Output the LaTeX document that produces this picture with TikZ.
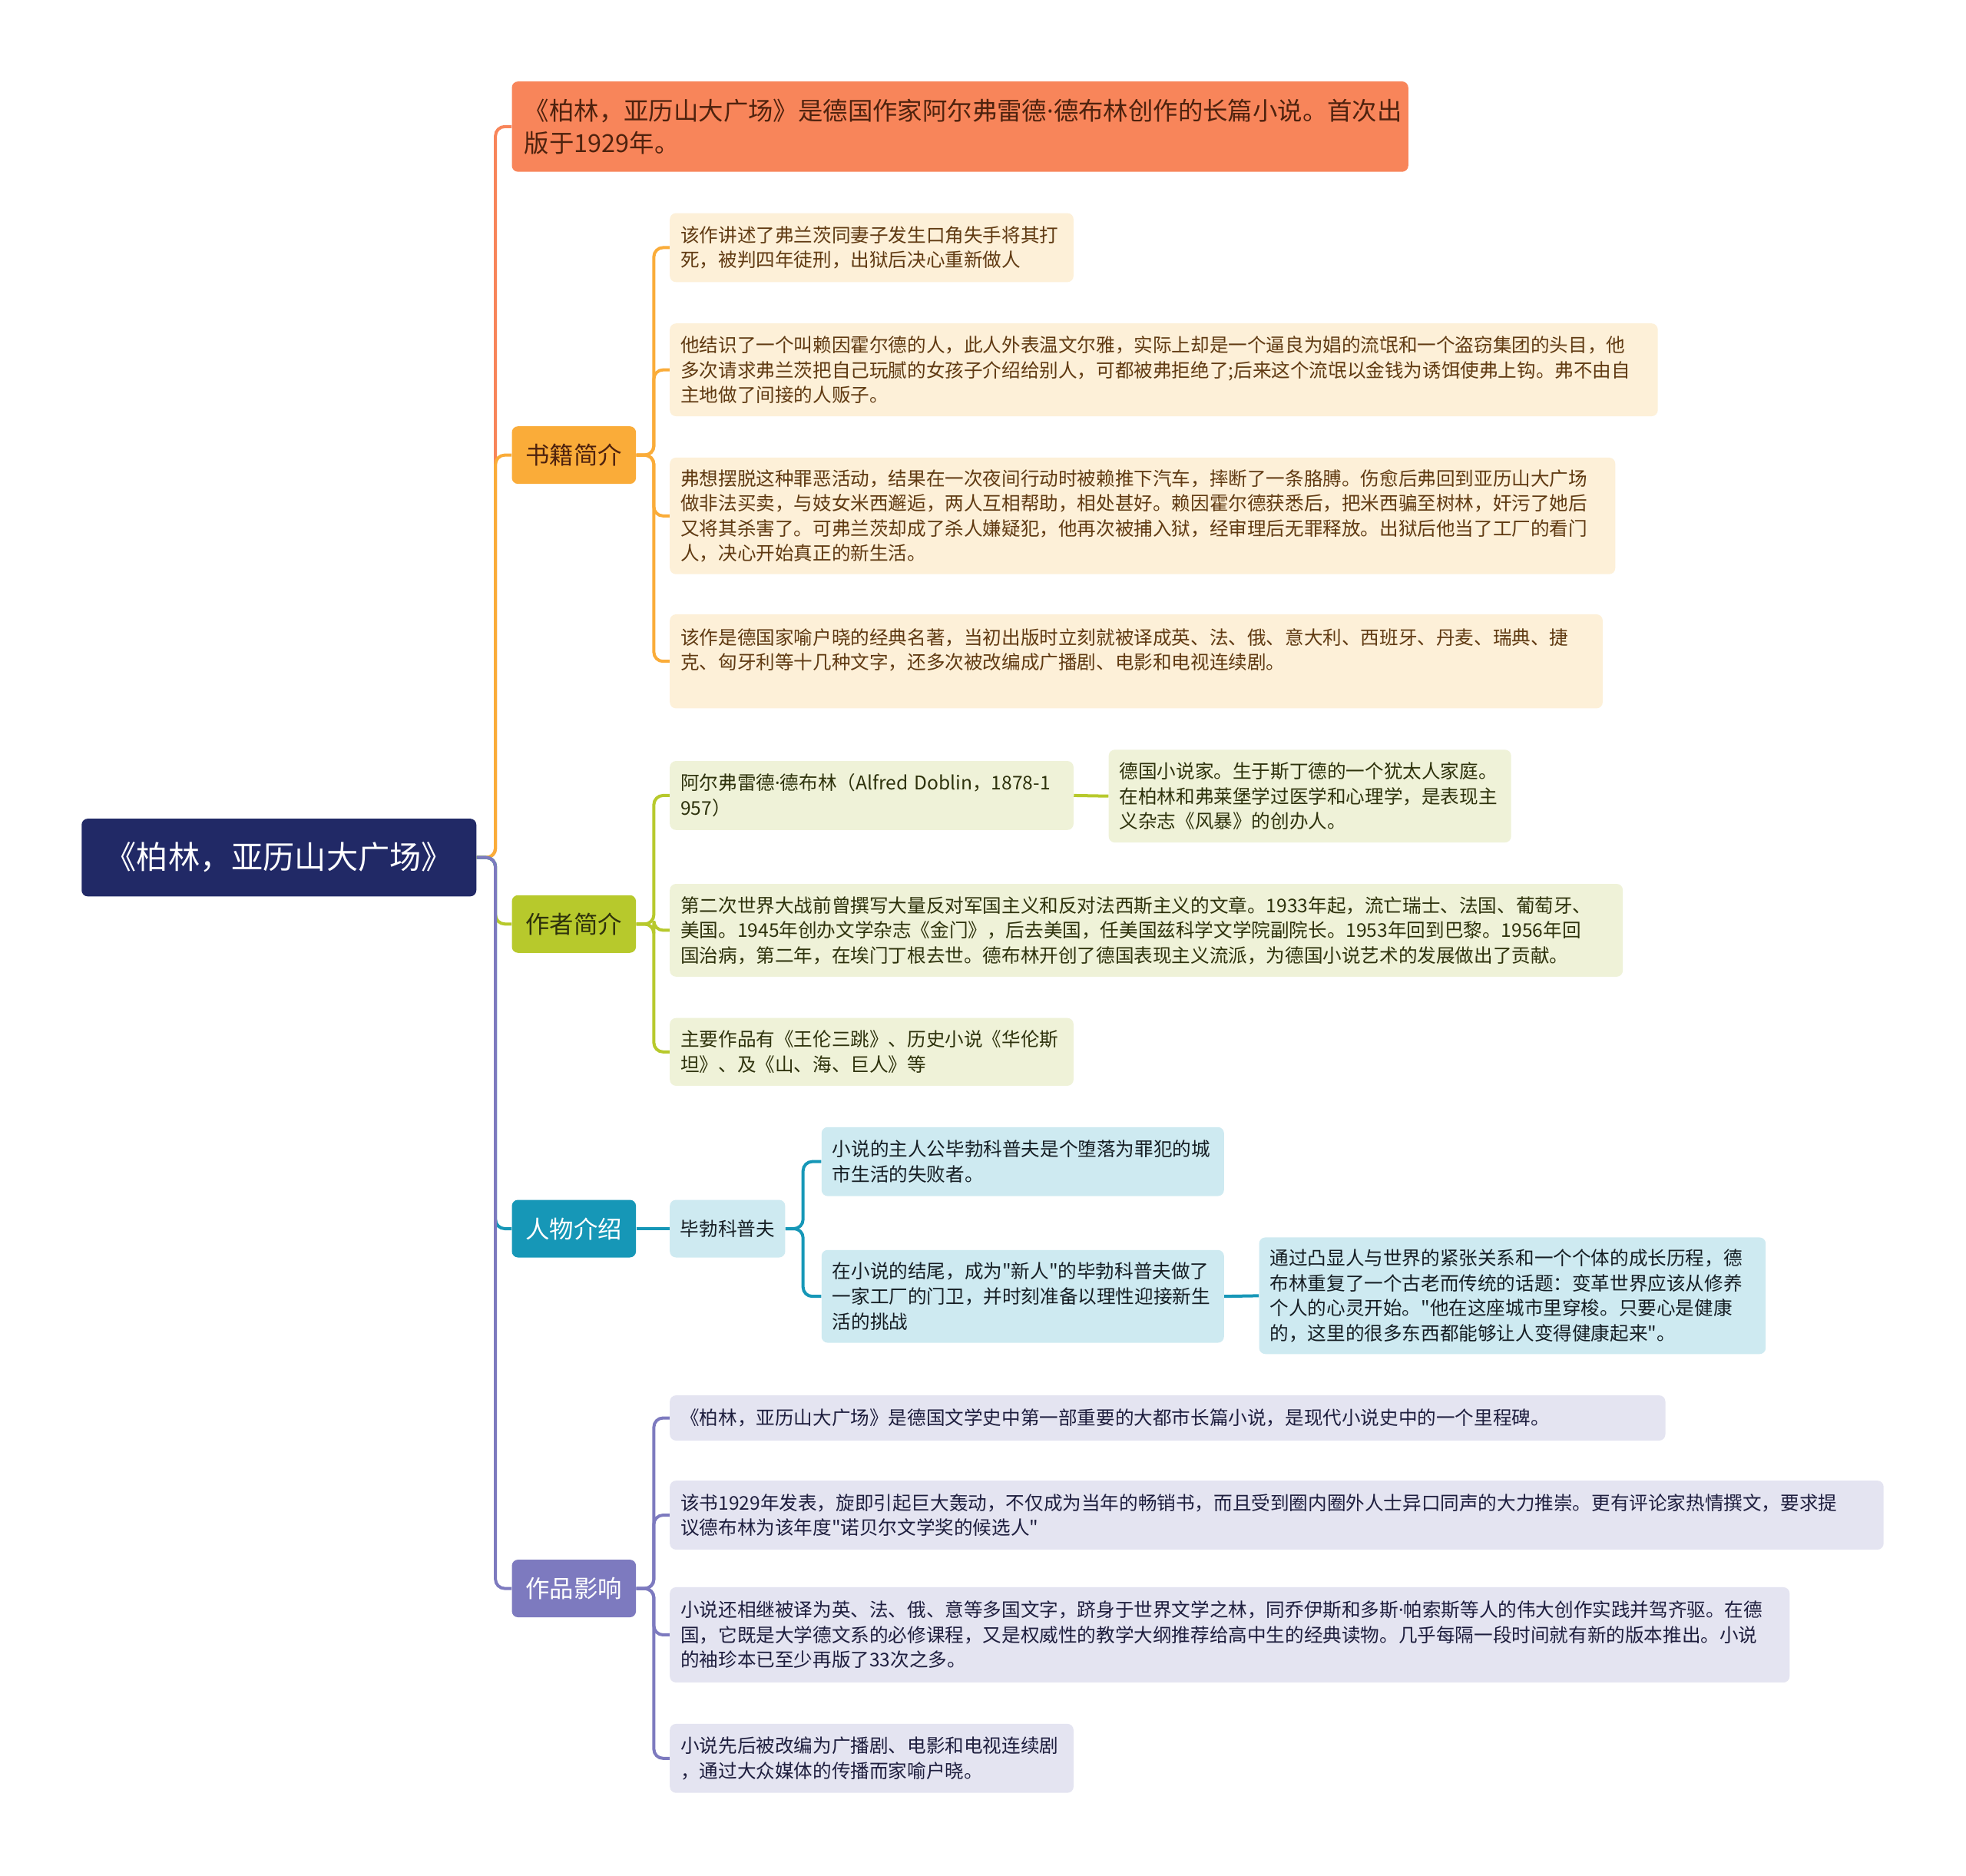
\documentclass[tikz,border=0pt]{standalone}
\usepackage{fontspec}
\setmainfont{Noto Sans CJK SC}[Ligatures=TeXOff]
\newfontfamily\latinfont{Noto Sans}
\newcommand{\mdot}{{\latinfont ·}}
\usetikzlibrary{positioning}
\definecolor{RootNavy}{RGB}{33,41,102}
\definecolor{TopCoral}{RGB}{248,133,90}
\definecolor{TopText}{RGB}{78,34,14}
\definecolor{BookAmber}{RGB}{250,172,57}
\definecolor{BookSoft}{RGB}{253,240,216}
\definecolor{BookText}{RGB}{96,58,18}
\definecolor{AuthorGreen}{RGB}{183,201,44}
\definecolor{AuthorSoft}{RGB}{239,242,216}
\definecolor{AuthorText}{RGB}{46,50,12}
\definecolor{CharTeal}{RGB}{22,151,183}
\definecolor{CharSoft}{RGB}{206,234,241}
\definecolor{CharText}{RGB}{22,30,36}
\definecolor{WorkPurple}{RGB}{125,122,191}
\definecolor{WorkSoft}{RGB}{228,228,241}
\definecolor{WorkText}{RGB}{30,30,62}

\begin{document}
\begin{tikzpicture}[x=0.8163pt, y=-0.8163pt,
    rootbox/.style={fill=RootNavy, text=white, rounded corners=4pt, minimum width=257pt, minimum height=50.6pt, font=\fontsize{20.6}{24}\selectfont},
    topbox/.style={fill=TopCoral, text=TopText, rounded corners=4pt, align=left, text width=567.2pt, inner xsep=8.2pt, minimum height=58.8pt, anchor=west, font=\fontsize{16.2}{21.2}\selectfont},
    branchbox/.style={rounded corners=4pt, minimum width=80.8pt, minimum height=37.5pt, inner xsep=0pt, anchor=west, font=\fontsize{15.7}{18}\selectfont},
    leafbox/.style={rounded corners=4pt, align=left, inner xsep=7pt, inner ysep=0pt, anchor=west, font=\fontsize{12.3}{16.3}\selectfont},
    link/.style={line width=2pt, rounded corners=6pt}
  ]
    \path[use as bounding box, fill=white] (0,0) rectangle (1568,1496);

    % root and first level
    \node[rootbox] (root) at (222.5,684) {《柏林，亚历山大广场》};
    \node[topbox] (intro) at (408,101) {《柏林，亚历山大广场》是德国作家阿尔弗雷德\mdot 德布林创作的长篇小说。首次出\\版于1929年。};
    \node[branchbox, fill=BookAmber, text=TopText] (book) at (408,363) {书籍简介};
    \node[branchbox, fill=AuthorGreen, text=AuthorText] (author) at (408,737) {作者简介};
    \node[branchbox, fill=CharTeal, text=white] (chars) at (408,980) {人物介绍};
    \node[branchbox, fill=WorkPurple, text=white] (impact) at (408,1267) {作品影响};

    % book
    \node[leafbox, fill=BookSoft, text=BookText, text width=248.8pt, minimum height=44.9pt] (book1) at (534,197.5) {该作讲述了弗兰茨同妻子发生口角失手将其打\\死，被判四年徒刑，出狱后决心重新做人};
    \node[leafbox, fill=BookSoft, text=BookText, text width=629.2pt, minimum height=60.4pt] (book2) at (534,295) {他结识了一个叫赖因霍尔德的人，此人外表温文尔雅，实际上却是一个逼良为娼的流氓和一个盗窃集团的头目，他\\多次请求弗兰茨把自己玩腻的女孩子介绍给别人，可都被弗拒绝了;后来这个流氓以金钱为诱饵使弗上钩。弗不由自\\主地做了间接的人贩子。};
    \node[leafbox, fill=BookSoft, text=BookText, text width=601.5pt, minimum height=75.9pt] (book3) at (534,411.5) {弗想摆脱这种罪恶活动，结果在一次夜间行动时被赖推下汽车，摔断了一条胳膊。伤愈后弗回到亚历山大广场\\做非法买卖，与妓女米西邂逅，两人互相帮助，相处甚好。赖因霍尔德获悉后，把米西骗至树林，奸污了她后\\又将其杀害了。可弗兰茨却成了杀人嫌疑犯，他再次被捕入狱，经审理后无罪释放。出狱后他当了工厂的看门\\人，决心开始真正的新生活。};
    \node[leafbox, fill=BookSoft, text=BookText, text width=593.3pt, minimum height=61.2pt] (book4) at (534,527.5) {该作是德国家喻户晓的经典名著，当初出版时立刻就被译成英、法、俄、意大利、西班牙、丹麦、瑞典、捷\\克、匈牙利等十几种文字，还多次被改编成广播剧、电影和电视连续剧。\\\mbox{}};

    % author
    \node[leafbox, fill=AuthorSoft, text=AuthorText, text width=248.8pt, minimum height=44.9pt] (auth1) at (534,634.5) {阿尔弗雷德\mdot 德布林（Alfred~Doblin，\mbox{1878-1}\\957）};
    \node[leafbox, fill=AuthorSoft, text=AuthorText, text width=248pt, minimum height=60.4pt] (auth1x) at (884,635) {德国小说家。生于斯丁德的一个犹太人家庭。\\在柏林和弗莱堡学过医学和心理学，是表现主\\义杂志《风暴》的创办人。};
    \node[leafbox, fill=AuthorSoft, text=AuthorText, text width=606.4pt, minimum height=60.4pt] (auth2) at (534,742) {第二次世界大战前曾撰写大量反对军国主义和反对法西斯主义的文章。1933年起，流亡瑞士、法国、葡萄牙、\\美国。1945年创办文学杂志《金门》，后去美国，任美国兹科学文学院副院长。1953年回到巴黎。1956年回\\国治病，第二年，在埃门丁根去世。德布林开创了德国表现主义流派，为德国小说艺术的发展做出了贡献。};
    \node[leafbox, fill=AuthorSoft, text=AuthorText, text width=248.8pt, minimum height=44.1pt] (auth3) at (534,839) {主要作品有《王伦三跳》、历史小说《华伦斯\\坦》、及《山、海、巨人》等};

    % characters
    \node[leafbox, fill=CharSoft, text=CharText, inner xsep=0pt, minimum width=75.1pt, minimum height=37.5pt] (hero) at (534,980) {毕勃科普夫};
    \node[leafbox, fill=CharSoft, text=CharText, text width=248pt, minimum height=44.9pt] (hero1) at (655,926.5) {小说的主人公毕勃科普夫是个堕落为罪犯的城\\市生活的失败者。};
    \node[leafbox, fill=CharSoft, text=CharText, text width=248pt, minimum height=60.4pt] (hero2) at (655,1034) {在小说的结尾，成为"新人"的毕勃科普夫做了\\一家工厂的门卫，并时刻准备以理性迎接新生\\活的挑战};
    \node[leafbox, fill=CharSoft, text=CharText, text width=315.8pt, minimum height=75.9pt] (hero2x) at (1004,1033.5) {通过凸显人与世界的紧张关系和一个个体的成长历程，德\\布林重复了一个古老而传统的话题：变革世界应该从修养\\个人的心灵开始。"他在这座城市里穿梭。只要心是健康\\的，这里的很多东西都能够让人变得健康起来"。};

    % impact
    \node[leafbox, fill=WorkSoft, text=WorkText, text width=634.1pt, minimum height=29.4pt] (work1) at (534,1131) {《柏林，亚历山大广场》是德国文学史中第一部重要的大都市长篇小说，是现代小说史中的一个里程碑。};
    \node[leafbox, fill=WorkSoft, text=WorkText, text width=776.2pt, minimum height=44.9pt] (work2) at (534,1208.5) {该书1929年发表，旋即引起巨大轰动，不仅成为当年的畅销书，而且受到圈内圈外人士异口同声的大力推崇。更有评论家热情撰文，要求提\\议德布林为该年度"诺贝尔文学奖的候选人"};
    \node[leafbox, fill=WorkSoft, text=WorkText, text width=715pt, minimum height=62pt] (work3) at (534,1304) {小说还相继被译为英、法、俄、意等多国文字，跻身于世界文学之林，同乔伊斯和多斯\mdot 帕索斯等人的伟大创作实践并驾齐驱。在德\\国，它既是大学德文系的必修课程，又是权威性的教学大纲推荐给高中生的经典读物。几乎每隔一段时间就有新的版本推出。小说\\的袖珍本已至少再版了33次之多。};
    \node[leafbox, fill=WorkSoft, text=WorkText, text width=248.8pt, minimum height=44.9pt] (work4) at (534,1402.5) {小说先后被改编为广播剧、电影和电视连续剧\\，通过大众媒体的传播而家喻户晓。};

    % links from the root
    \draw[link, TopCoral] (root.east) -- ++(15,0) |- (intro.west);
    \draw[link, BookAmber] (root.east) -- ++(15,0) |- (book.west);
    \draw[link, AuthorGreen] (root.east) -- ++(15,0) |- (author.west);
    \draw[link, CharTeal] (root.east) -- ++(15,0) |- (chars.west);
    \draw[link, WorkPurple] (root.east) -- ++(15,0) |- (impact.west);

    % second level links
    \foreach \leaf in {book1,book2,book3,book4}
      \draw[link, BookAmber] (book.east) -- ++(14,0) |- (\leaf.west);
    \foreach \leaf in {auth1,auth2,auth3}
      \draw[link, AuthorGreen] (author.east) -- ++(14,0) |- (\leaf.west);
    \draw[link, AuthorGreen] (auth1.east) -- (auth1x.west);
    \draw[link, CharTeal] (chars.east) -- (hero.west);
    \foreach \leaf in {hero1,hero2}
      \draw[link, CharTeal] (hero.east) -- ++(14,0) |- (\leaf.west);
    \draw[link, CharTeal] (hero2.east) -- (hero2x.west);
    \foreach \leaf in {work1,work2,work3,work4}
      \draw[link, WorkPurple] (impact.east) -- ++(14,0) |- (\leaf.west);
  \end{tikzpicture}
\end{document}
